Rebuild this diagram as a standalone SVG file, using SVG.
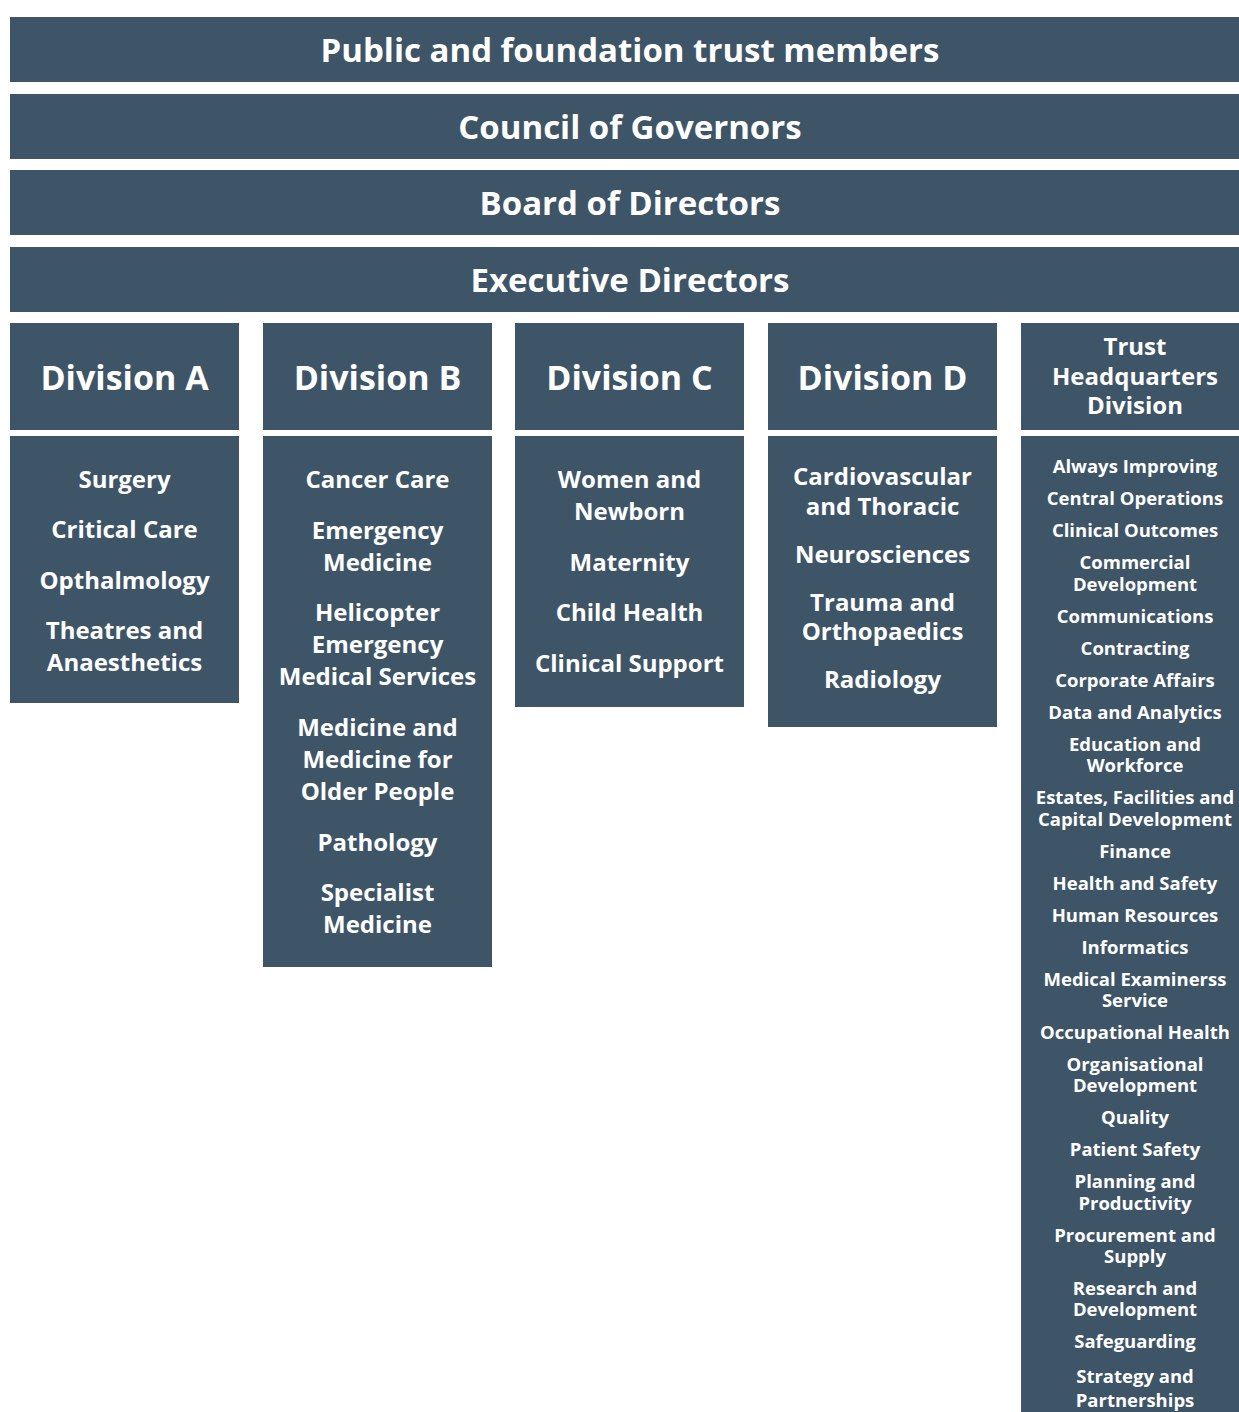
<svg xmlns="http://www.w3.org/2000/svg" width="1239" height="1412" viewBox="0 0 1239 1412">
<style>
.b{fill:#3e5467}
text{font-family:"Open Sans","Noto Sans","DejaVu Sans",sans-serif;font-weight:700;fill:#fff;text-anchor:middle}
.t{font-size:33px}
.h{font-size:34px}
.hq{font-size:24px}
.i{font-size:24px}
.s{font-size:18.5px}
</style>
<rect width="1239" height="1412" fill="#fff"/>
<g id="members"><rect class="b" x="10" y="17" width="1229" height="65"/><text class="t" x="630" y="62">Public and foundation trust members</text></g>
<g id="governors"><rect class="b" x="10" y="94" width="1229" height="65"/><text class="t" x="630" y="139">Council of Governors</text></g>
<g id="board"><rect class="b" x="10" y="170" width="1229" height="65"/><text class="t" x="630" y="215">Board of Directors</text></g>
<g id="executive"><rect class="b" x="10" y="247" width="1229" height="65"/><text class="t" x="630" y="292">Executive Directors</text></g>
<g id="connectors"></g>
<g id="divA"><rect class="b" x="10" y="323" width="229" height="107"/><text class="h" x="124.5" y="390">Division A</text></g>
<g id="divA-units"><rect class="b" x="10" y="436" width="229" height="267"/>
<text class="i" x="124.5" y="488">Surgery</text>
<text class="i" x="124.5" y="538">Critical Care</text>
<text class="i" x="124.5" y="589">Opthalmology</text>
<text class="i" x="124.5" y="639">Theatres and</text>
<text class="i" x="124.5" y="671">Anaesthetics</text></g>
<g id="divB"><rect class="b" x="263" y="323" width="229" height="107"/><text class="h" x="377.5" y="390">Division B</text></g>
<g id="divB-units"><rect class="b" x="263" y="436" width="229" height="531"/>
<text class="i" x="377.5" y="488">Cancer Care</text>
<text class="i" x="377.5" y="539">Emergency</text>
<text class="i" x="377.5" y="571">Medicine</text>
<text class="i" x="377.5" y="621">Helicopter</text>
<text class="i" x="377.5" y="653">Emergency</text>
<text class="i" x="377.5" y="685">Medical Services</text>
<text class="i" x="377.5" y="736">Medicine and</text>
<text class="i" x="377.5" y="768">Medicine for</text>
<text class="i" x="377.5" y="800">Older People</text>
<text class="i" x="377.5" y="851">Pathology</text>
<text class="i" x="377.5" y="901">Specialist</text>
<text class="i" x="377.5" y="933">Medicine</text></g>
<g id="divC"><rect class="b" x="515" y="323" width="229" height="107"/><text class="h" x="629.5" y="390">Division C</text></g>
<g id="divC-units"><rect class="b" x="515" y="436" width="229" height="271"/>
<text class="i" x="629.5" y="488">Women and</text>
<text class="i" x="629.5" y="520">Newborn</text>
<text class="i" x="629.5" y="571">Maternity</text>
<text class="i" x="629.5" y="621">Child Health</text>
<text class="i" x="629.5" y="672">Clinical Support</text></g>
<g id="divD"><rect class="b" x="768" y="323" width="229" height="107"/><text class="h" x="882.5" y="390">Division D</text></g>
<g id="divD-units"><rect class="b" x="768" y="436" width="229" height="291"/>
<text class="i" x="882.5" y="485">Cardiovascular</text>
<text class="i" x="882.5" y="515">and Thoracic</text>
<text class="i" x="882.5" y="563">Neurosciences</text>
<text class="i" x="882.5" y="611">Trauma and</text>
<text class="i" x="882.5" y="640">Orthopaedics</text>
<text class="i" x="882.5" y="688">Radiology</text></g>
<g id="divHQ"><rect class="b" x="1021" y="323" width="218" height="107"/>
<text class="hq" x="1135" y="355">Trust</text>
<text class="hq" x="1135" y="385">Headquarters</text>
<text class="hq" x="1135" y="414">Division</text></g>
<g id="divHQ-units"><rect class="b" x="1021" y="436" width="218" height="976"/>
<text class="s" x="1135" y="473">Always Improving</text>
<text class="s" x="1135" y="505">Central Operations</text>
<text class="s" x="1135" y="537">Clinical Outcomes</text>
<text class="s" x="1135" y="569">Commercial</text>
<text class="s" x="1135" y="591">Development</text>
<text class="s" x="1135" y="623">Communications</text>
<text class="s" x="1135" y="655">Contracting</text>
<text class="s" x="1135" y="687">Corporate Affairs</text>
<text class="s" x="1135" y="719">Data and Analytics</text>
<text class="s" x="1135" y="751">Education and</text>
<text class="s" x="1135" y="772">Workforce</text>
<text class="s" x="1135" y="804">Estates, Facilities and</text>
<text class="s" x="1135" y="826">Capital Development</text>
<text class="s" x="1135" y="858">Finance</text>
<text class="s" x="1135" y="890">Health and Safety</text>
<text class="s" x="1135" y="922">Human Resources</text>
<text class="s" x="1135" y="954">Informatics</text>
<text class="s" x="1135" y="986">Medical Examinerss</text>
<text class="s" x="1135" y="1007">Service</text>
<text class="s" x="1135" y="1039">Occupational Health</text>
<text class="s" x="1135" y="1071">Organisational</text>
<text class="s" x="1135" y="1092">Development</text>
<text class="s" x="1135" y="1124">Quality</text>
<text class="s" x="1135" y="1156">Patient Safety</text>
<text class="s" x="1135" y="1188">Planning and</text>
<text class="s" x="1135" y="1210">Productivity</text>
<text class="s" x="1135" y="1242">Procurement and</text>
<text class="s" x="1135" y="1263">Supply</text>
<text class="s" x="1135" y="1295">Research and</text>
<text class="s" x="1135" y="1316">Development</text>
<text class="s" x="1135" y="1348">Safeguarding</text>
<text class="s" x="1135" y="1383">Strategy and</text>
<text class="s" x="1135" y="1407">Partnerships</text></g>
</svg>
